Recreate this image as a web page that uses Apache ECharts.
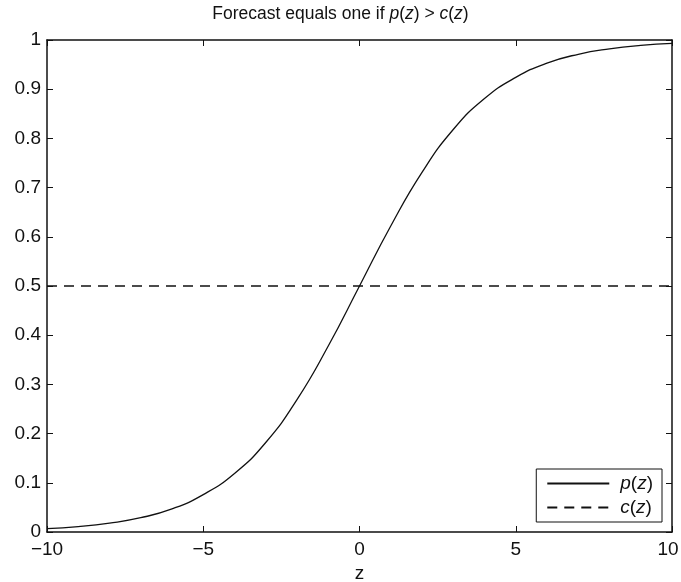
<!DOCTYPE html>
<html>
<head>
<meta charset="utf-8">
<script src="https://cdn.jsdelivr.net/npm/echarts@6/dist/echarts.min.js"></script>
<style>
  html, body { margin: 0; padding: 0; background: #fff; }
  #chart { width: 681px; height: 582px; }
</style>
</head>
<body>
<div id="chart"></div>
<script>
// Values.
const zValues = [-10, -9, -8, -7, -6, -5, -4, -3, -2, -1, 0, 1, 2, 3, 4, 5, 6, 7, 8, 9, 10]
const pValues = [0.007, 0.011, 0.018, 0.029, 0.047, 0.076, 0.119, 0.182, 0.269, 0.378, 0.5,
                 0.622, 0.731, 0.818, 0.881, 0.924, 0.953, 0.971, 0.982, 0.989, 0.993]
const cZ = [-10, 10]
const cValues = [0.5, 0.5]

const FONT = "'Liberation Sans', Arial, sans-serif"
const INK = "#111"

const pSeries = zValues.map((z, i) => [z, pValues[i]])
const cSeries = cZ.map((z, i) => [z, cValues[i]])

// minus sign instead of hyphen; nudge the last label so it stays on the canvas
const xLabel = v => v === 10 ? "{r|10}" : String(v).replace("-", "\u2212")

const baseX = {
  type: "value", min: -10, max: 10, interval: 5,
  axisLine: {show: true, onZero: false, lineStyle: {color: INK, width: 1.5}},
  axisTick: {show: true, inside: true, length: 6, lineStyle: {color: INK}},
  splitLine: {show: false},
}
const baseY = {
  type: "value", min: 0, max: 1, interval: 0.1,
  axisLine: {show: true, onZero: false, lineStyle: {color: INK, width: 1.5}},
  axisTick: {show: true, inside: true, length: 6, lineStyle: {color: INK}},
  splitLine: {show: false},
}

const chart = echarts.init(document.getElementById("chart"), null, {renderer: "canvas"})
chart.setOption({
  animation: false,
  textStyle: {fontFamily: FONT, color: INK},
  title: {
    text: "Forecast equals one if {i|p}({i|z}) > {i|c}({i|z})",
    left: "center", top: 0,
    textStyle: {
      fontFamily: FONT, fontSize: 17.5, fontWeight: "normal", color: INK,
      rich: {i: {fontFamily: FONT, fontSize: 17.5, fontStyle: "italic", color: INK}},
    },
  },
  grid: {left: 47, right: 9, top: 40, bottom: 50, containLabel: false, outerBoundsMode: "none"},
  xAxis: [
    {
      ...baseX, position: "bottom",
      name: "z", nameLocation: "middle", nameGap: 30,
      nameTextStyle: {fontFamily: FONT, fontSize: 19, color: INK},
      axisLabel: {
        color: INK, fontFamily: FONT, fontSize: 19, margin: 8, formatter: xLabel,
        rich: {r: {fontFamily: FONT, fontSize: 19, color: INK, padding: [0, 8, 0, 0]}},
      },
    },
    {...baseX, position: "top", axisLabel: {show: false}},
  ],
  yAxis: [
    {
      ...baseY, position: "left",
      axisLabel: {color: INK, fontFamily: FONT, fontSize: 19, margin: 6},
    },
    {...baseY, position: "right", axisLabel: {show: false}},
  ],
  legend: {
    orient: "vertical",
    right: 19, bottom: 60,
    backgroundColor: "#fff",
    borderColor: INK, borderWidth: 1, borderRadius: 0,
    padding: [5, 9, 5, 10],
    itemGap: 5,
    itemWidth: 62, itemHeight: 16,
    itemStyle: {opacity: 0},
    data: ["p", "c"],
    formatter: n => `{i|${n}}({i|z})`,
    textStyle: {
      fontFamily: FONT, fontSize: 19, color: INK, padding: [0, 0, 0, 6],
      rich: {i: {fontFamily: FONT, fontSize: 19, fontStyle: "italic", color: INK}},
    },
  },
  series: [
    {
      name: "p", type: "line", data: pSeries, smooth: true, showSymbol: false, symbol: "none",
      lineStyle: {color: INK, width: 1.3},
      itemStyle: {color: INK},
    },
    {
      name: "c", type: "line", data: cSeries, showSymbol: false, symbol: "none",
      lineStyle: {color: INK, width: 1.3, type: [10, 7]},
      itemStyle: {color: INK},
    },
  ],
})
</script>
</body>
</html>
